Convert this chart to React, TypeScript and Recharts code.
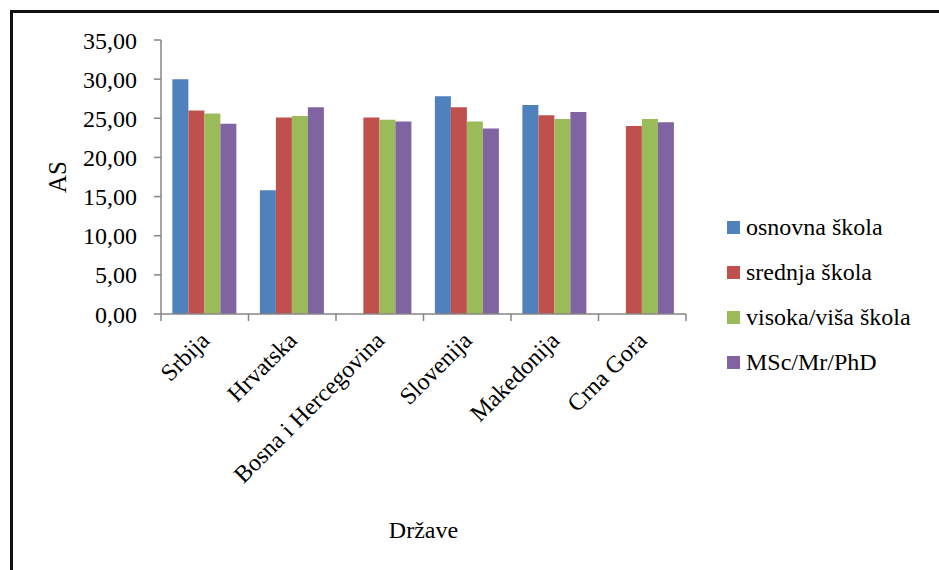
import { BarChart, Bar, XAxis, YAxis, Legend, Label } from 'recharts'

const categories = ['Srbija', 'Hrvatska', 'Bosna i Hercegovina', 'Slovenija', 'Makedonija', 'Crna Gora']
const osnovna = [30.0, 15.8, null, 27.8, 26.7, null]
const srednja = [26.0, 25.1, 25.1, 26.4, 25.4, 24.0]
const visoka = [25.6, 25.3, 24.8, 24.6, 24.9, 24.9]
const phd = [24.3, 26.4, 24.6, 23.7, 25.8, 24.5]
const yTicks = [0, 5, 10, 15, 20, 25, 30, 35]

const seriesNames = ['osnovna škola', 'srednja škola', 'visoka/viša škola', 'MSc/Mr/PhD']
const COLORS = ['#4F81BD', '#C0504D', '#9BBB59', '#8064A2']
const FONT = 'Liberation Serif, Tinos, DejaVu Serif, Noto Serif, serif'
const AXIS = '#868686'

const data = categories.map((name, i) => ({
  name,
  osnovna: osnovna[i],
  srednja: srednja[i],
  visoka: visoka[i],
  phd: phd[i],
}))

const fmt = (v: number) => v.toFixed(2).replace('.', ',')

// category label plus the Excel-style tick marks between categories
function CategoryTick({ x, y, payload, index }: any) {
  const half = payload && payload.offset ? payload.offset : 0
  const idx = index ?? payload?.index
  return (
    <g>
      {half > 0 && (
        <line x1={x - half} x2={x - half} y1={y} y2={y + 7} stroke={AXIS} strokeWidth={1.5} />
      )}
      {half > 0 && idx === categories.length - 1 && (
        <line x1={x + half} x2={x + half} y1={y} y2={y + 7} stroke={AXIS} strokeWidth={1.5} />
      )}
      <text
        x={x + 6}
        y={y + 28}
        transform={`rotate(-45, ${x + 6}, ${y + 28})`}
        textAnchor="end"
        style={{ fontFamily: FONT }}
        fontSize={24}
        fill="#000"
      >
        {payload.value}
      </text>
    </g>
  )
}

function LegendBox({ payload }: any) {
  const items = [...(payload || [])].sort(
    (a: any, b: any) => seriesNames.indexOf(a.value) - seriesNames.indexOf(b.value)
  )
  return (
    <div style={{ paddingLeft: 41, fontFamily: FONT, fontSize: 24, color: '#000' }}>
      {items.map((p: any) => (
        <div key={p.value} style={{ height: 45, display: 'flex', alignItems: 'center', whiteSpace: 'nowrap' }}>
          <span style={{ width: 13, height: 13, flexShrink: 0, background: p.color, marginRight: 6, display: 'inline-block' }} />
          {p.value}
        </div>
      ))}
    </div>
  )
}

export default function App() {
  return (
    <div style={{ position: 'fixed', left: 0, top: 0, width: 939, height: 570, overflow: 'hidden', background: '#fff' }}>
      <div
        style={{
          position: 'absolute', left: 10, top: 10, width: 960, height: 600,
          borderLeft: '3px solid #111', borderTop: '3px solid #111', boxSizing: 'border-box',
        }}
      />
      <div style={{ position: 'absolute', left: 0, top: 0 }}>
        <BarChart
          width={939}
          height={570}
          data={data}
          margin={{ top: 40, right: 53, bottom: 56, left: 57 }}
          barCategoryGap="13%"
          barGap={0}
        >
          <XAxis
            dataKey="name"
            interval={0}
            height={200}
            tickLine={false}
            tickSize={0}
            tickMargin={0}
            axisLine={{ stroke: AXIS, strokeWidth: 1.5 }}
            tick={<CategoryTick />}
          >
            <Label
              content={({ viewBox }: any) => (
                <text
                  x={viewBox.x + viewBox.width / 2}
                  y={viewBox.y + 216}
                  textAnchor="middle"
                  dominantBaseline="central"
                  style={{ fontFamily: FONT }}
                  fontSize={24}
                  fill="#000"
                >
                  Države
                </text>
              )}
            />
          </XAxis>
          <YAxis
            width={104}
            domain={[0, 35]}
            ticks={yTicks}
            tickFormatter={fmt}
            axisLine={{ stroke: AXIS, strokeWidth: 1.5 }}
            tickLine={{ stroke: AXIS, strokeWidth: 1.5 }}
            tickSize={7}
            tickMargin={17}
            tick={{ fill: '#000', fontSize: 24, style: { fontFamily: FONT } }}
          >
            <Label
              content={({ viewBox }: any) => (
                <text
                  x={viewBox.x}
                  y={viewBox.y + viewBox.height / 2}
                  transform={`rotate(-90, ${viewBox.x}, ${viewBox.y + viewBox.height / 2})`}
                  textAnchor="middle"
                  dominantBaseline="central"
                  style={{ fontFamily: FONT }}
                  fontSize={25}
                  fill="#000"
                >
                  AS
                </text>
              )}
            />
          </YAxis>
          <Legend
            layout="vertical"
            align="right"
            verticalAlign="middle"
            content={<LegendBox />}
            wrapperStyle={{ top: 205, right: 53, width: 200 }}
          />
          <Bar dataKey="osnovna" name={seriesNames[0]} fill={COLORS[0]} isAnimationActive={false} />
          <Bar dataKey="srednja" name={seriesNames[1]} fill={COLORS[1]} isAnimationActive={false} />
          <Bar dataKey="visoka" name={seriesNames[2]} fill={COLORS[2]} isAnimationActive={false} />
          <Bar dataKey="phd" name={seriesNames[3]} fill={COLORS[3]} isAnimationActive={false} />
        </BarChart>
      </div>
    </div>
  )
}
